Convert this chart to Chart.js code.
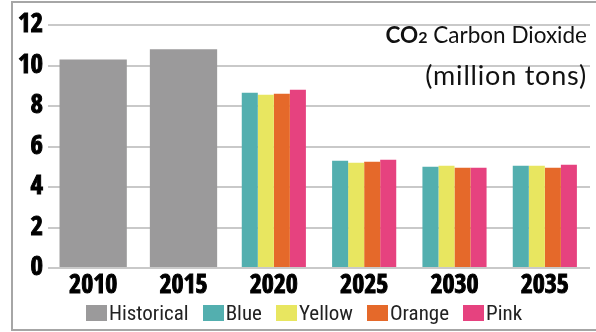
<!DOCTYPE html>
<html>
<head>
<meta charset="utf-8">
<script src="https://cdn.jsdelivr.net/npm/chart.js@4.4.1/dist/chart.umd.min.js"></script>
<style>
	html, body { margin: 0; padding: 0; background: #fff; }
	#wrap { position: relative; width: 596px; height: 332px; overflow: hidden; }
	#frame {
		position: absolute; left: 11px; top: 1px; width: 620px; height: 330px;
		border: 2px solid #a6a6a6; box-sizing: border-box;
	}
	#co2Chart { position: absolute; left: 0; top: 0; }
	#legend {
		position: absolute; left: 0; top: 301px; width: 608px;
		display: flex; justify-content: center; align-items: center;
		font: 400 21px "Roboto Condensed", sans-serif; color: #222;
	}
	#legend .item { display: flex; align-items: center; margin: 0 7px; }
	#legend .box { width: 21px; height: 16px; margin-right: 2px; }
</style>
</head>
<body>
<div id="wrap">
	<div id="frame"></div>
	<canvas id="co2Chart" width="596" height="332"></canvas>
	<div id="legend"></div>
</div>
<script>
// years on the x axis
const years = ["2010", "2015", "2020", "2025", "2030", "2035"];

// million tons of CO2 per scenario
const historical = [10.3, 10.8, null, null, null, null];
const blue = [null, null, 8.65, 5.3, 5.0, 5.05];
const yellow = [null, null, 8.55, 5.2, 5.05, 5.05];
const orange = [null, null, 8.6, 5.25, 4.95, 4.95];
const pink = [null, null, 8.8, 5.35, 4.95, 5.1];

const yTicks = [0, 2, 4, 6, 8, 10, 12];

const tickFont = "'Open Sans Condensed', 'Roboto Condensed', sans-serif";
const titleFont = "Lato, 'Open Sans', sans-serif";

// title in the top right corner of the plot
const titlePlugin = {
	id: "cornerTitle",
	afterDraw(chart) {
		const ctx = chart.ctx;
		const right = chart.chartArea.right - 3;
		ctx.save();
		ctx.fillStyle = "#111";
		ctx.textAlign = "left";
		ctx.textBaseline = "alphabetic";

		const rest = " Carbon Dioxide";
		ctx.font = "400 22.5px " + titleFont;
		const wRest = ctx.measureText(rest).width;
		ctx.font = "700 16px " + titleFont;
		const wSub = ctx.measureText("2").width;
		ctx.font = "700 22.5px " + titleFont;
		const wCO = ctx.measureText("CO").width;

		let x = right - wRest - wSub - wCO;
		const y1 = 43;
		ctx.fillText("CO", x, y1);
		x += wCO;
		ctx.font = "700 16px " + titleFont;
		ctx.fillText("2", x, y1);
		x += wSub;
		ctx.font = "400 22.5px " + titleFont;
		ctx.fillText(rest, x, y1);

		ctx.font = "400 27px " + titleFont;
		ctx.letterSpacing = "0.8px";
		ctx.textAlign = "right";
		ctx.fillText("(million tons)", right, 85);
		ctx.restore();
	},
};

function barSet(label, data, color, pct) {
	return {
		label: label,
		data: data,
		backgroundColor: color,
		borderWidth: 0,
		skipNull: true,
		barPercentage: 1,
		categoryPercentage: pct,
	};
}

const ctx = document.getElementById("co2Chart").getContext("2d");
const chart = new Chart(ctx, {
	type: "bar",
	data: {
		labels: years,
		datasets: [
			barSet("Historical", historical, "#9b9a9b", 0.745),
			barSet("Blue", blue, "#53afaf", 0.71),
			barSet("Yellow", yellow, "#e8e660", 0.71),
			barSet("Orange", orange, "#e5692a", 0.71),
			barSet("Pink", pink, "#e6427f", 0.71),
		],
	},
	options: {
		responsive: false,
		animation: false,
		layout: { padding: { left: 12, right: 6, top: 25, bottom: 28 } },
		plugins: {
			tooltip: { enabled: false },
			legend: { display: false },
		},
		scales: {
			x: {
				grid: { display: false, drawTicks: false },
				border: { display: false },
				ticks: {
					color: "#000",
					padding: 5,
					textStrokeColor: "#000",
					textStrokeWidth: 1,
					font: { family: tickFont, size: 26, weight: "bold", lineHeight: 1 },
				},
			},
			y: {
				min: 0,
				max: 12,
				afterFit: (axis) => {
					axis.width = 36;
				},
				afterBuildTicks: (axis) => {
					axis.ticks = yTicks.map((v) => ({ value: v }));
				},
				grid: { color: "#c9c9c9", lineWidth: 2, drawTicks: false },
				border: { display: false },
				ticks: {
					color: "#000",
					padding: 5,
					textStrokeColor: "#000",
					textStrokeWidth: 1,
					font: { family: tickFont, size: 27, weight: "bold", lineHeight: 1 },
				},
			},
		},
	},
	plugins: [titlePlugin],
});

// legend row under the axis, built from the datasets
const legend = document.getElementById("legend");
chart.data.datasets.forEach((ds) => {
	const item = document.createElement("span");
	item.className = "item";
	const box = document.createElement("span");
	box.className = "box";
	box.style.background = ds.backgroundColor;
	item.appendChild(box);
	item.appendChild(document.createTextNode(ds.label));
	legend.appendChild(item);
});
</script>
</body>
</html>
